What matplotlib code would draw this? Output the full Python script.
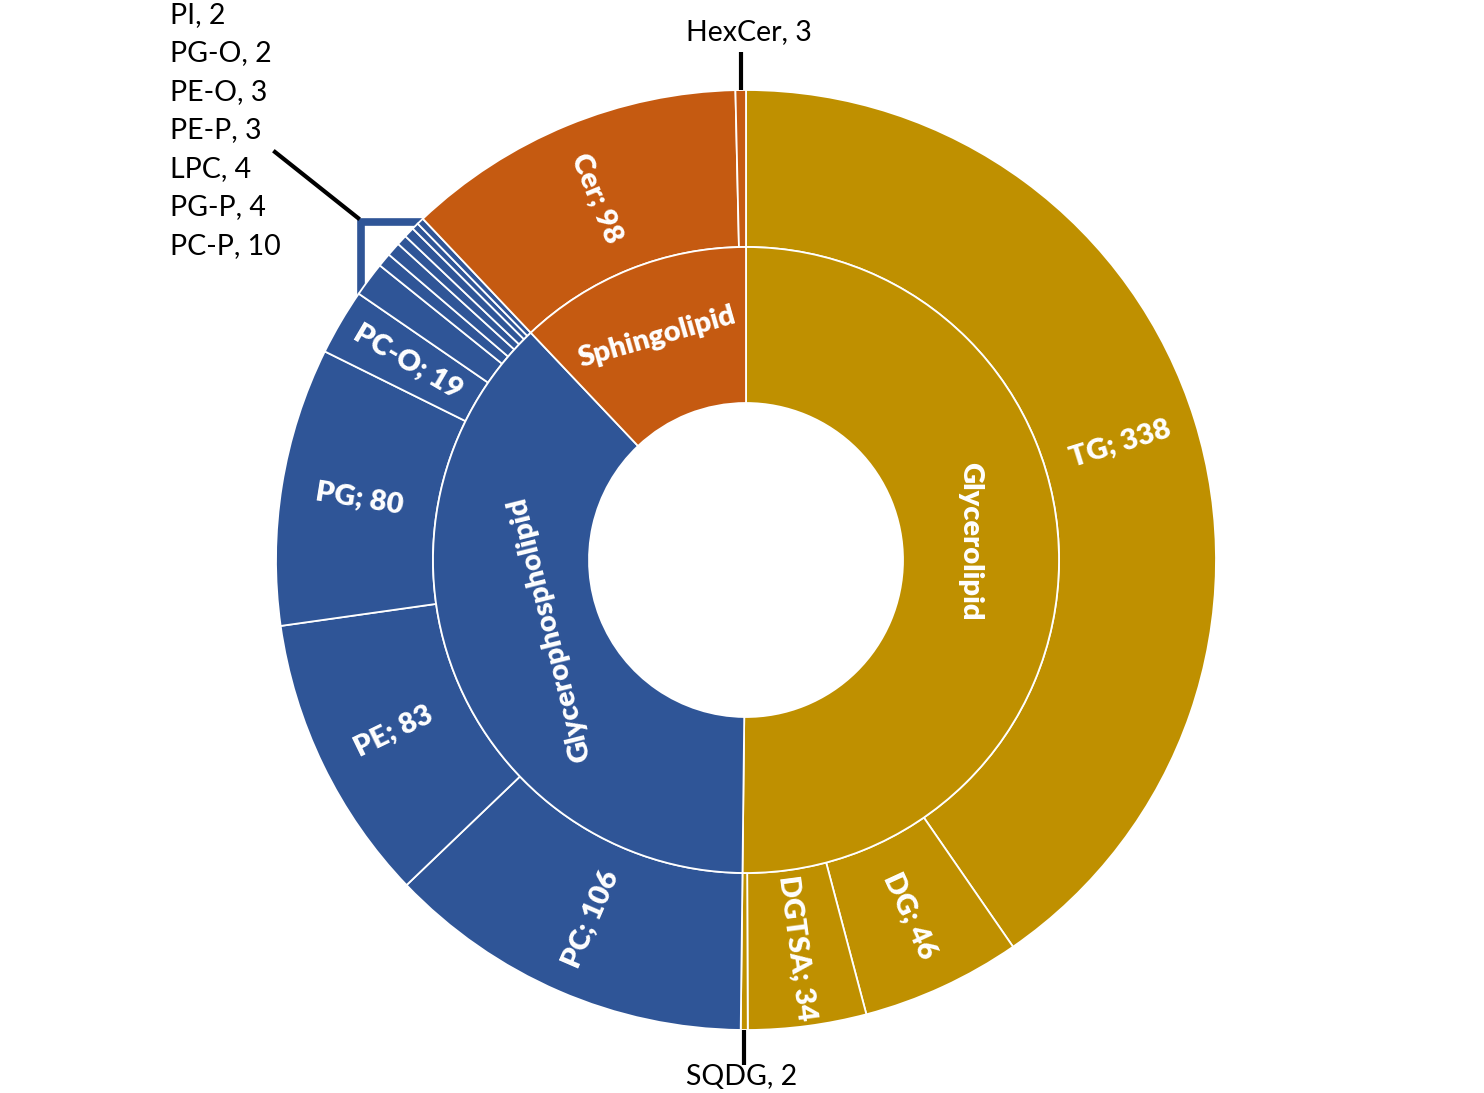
import numpy as np
import matplotlib.pyplot as plt
from matplotlib.patches import Rectangle

plt.rcParams['font.family'] = ['Lato', 'DejaVu Sans']

# inner ring (lipid categories)
categories = ['Glycerolipid', 'Glycerophospholipid', 'Sphingolipid']
cat_colors = ['#BF9000', '#2F5597', '#C55A11']

# outer ring (lipid classes), grouped by category, clockwise from 12 o'clock
classes = ['TG', 'DG', 'DGTSA', 'SQDG',
           'PC', 'PE', 'PG', 'PC-O', 'PC-P', 'PG-P', 'LPC', 'PE-P', 'PE-O', 'PG-O', 'PI',
           'Cer', 'HexCer']
counts = [338, 46, 34, 2,
          106, 83, 80, 19, 10, 4, 4, 3, 3, 2, 2,
          98, 3]
parent = [0, 0, 0, 0,
          1, 1, 1, 1, 1, 1, 1, 1, 1, 1, 1,
          2, 2]

cat_totals = [sum(c for c, p in zip(counts, parent) if p == i) for i in range(3)]

W, H = 1484, 1093
cx, cy = 746, H - 560
r_out, r_mid, r_in = 470, 313, 157

fig = plt.figure(figsize=(W / 100, H / 100), dpi=100)
ax = fig.add_axes([0, 0, 1, 1])

wp = dict(edgecolor='white', linewidth=1.3)
ax.pie(counts, radius=r_out, center=(cx, cy), startangle=90, counterclock=False,
       colors=[cat_colors[p] for p in parent],
       wedgeprops=dict(width=r_out - r_mid, **wp))
ax.pie(cat_totals, radius=r_mid, center=(cx, cy), startangle=90, counterclock=False,
       colors=cat_colors, wedgeprops=dict(width=r_mid - r_in, **wp))

total = sum(counts)


def mid_angles(vals):
    cum = np.cumsum([0] + list(vals))
    mids = (cum[:-1] + cum[1:]) / 2
    return 90 - mids / total * 360  # math degrees


# outer labels (radial, kept readable)
for name, val, th in zip(classes, counts, mid_angles(counts)):
    if val < 15:
        continue
    rr = (r_out + r_mid) / 2
    x = cx + rr * np.cos(np.radians(th))
    y = cy + rr * np.sin(np.radians(th))
    rot = th
    while rot > 90:
        rot -= 180
    while rot <= -90:
        rot += 180
    ax.text(x, y, f'{name}; {val}', color='white', fontsize=21, fontweight='heavy',
            ha='center', va='center', rotation=rot, rotation_mode='anchor')

# inner labels
inner_rot = [-90, 104, 16]
inner_r = [225, 208, 240]
inner_dth = [5, -2, 0]
for name, th, rot, rr, d in zip(categories, mid_angles(cat_totals), inner_rot, inner_r, inner_dth):
    x = cx + rr * np.cos(np.radians(th + d))
    y = cy + rr * np.sin(np.radians(th + d))
    ax.text(x, y, name, color='white', fontsize=21, fontweight='heavy',
            ha='center', va='center', rotation=rot, rotation_mode='anchor')

# callouts for small slices
ths = mid_angles(counts)
for name, ydir, ln, off, dx in [('HexCer', 1, 38, 58, 8), ('SQDG', -1, 35, 47, -3)]:
    i = classes.index(name)
    x = cx + r_out * np.cos(np.radians(ths[i]))
    y = cy + r_out * np.sin(np.radians(ths[i]))
    ax.plot([x, x], [y, y + ydir * ln], color='black', lw=3, solid_capstyle='butt', zorder=5)
    ax.text(x + dx, y + ydir * off, f'{name}, {counts[i]}',
            fontsize=20.5, ha='center', va='center', color='black')

# box around the tiny glycerophospholipid slices
ax.add_patch(Rectangle((361, H - 330), 100, 108, fill=False,
                       edgecolor='#2F5597', lw=5.5, zorder=0))
ax.plot([275, 358], [H - 152, H - 218], color='black', lw=3, zorder=5)

small = ['PI', 'PG-O', 'PE-O', 'PE-P', 'LPC', 'PG-P', 'PC-P']
for k, name in enumerate(small):
    ax.text(170, H - 15 - k * 38.5, f'{name}, {counts[classes.index(name)]}',
            fontsize=20.5, ha='left', va='center', color='black')

ax.set_xlim(0, W)
ax.set_ylim(0, H)
ax.set_aspect('auto')
ax.axis('off')

fig.savefig('out.png', dpi=100, facecolor='white')
